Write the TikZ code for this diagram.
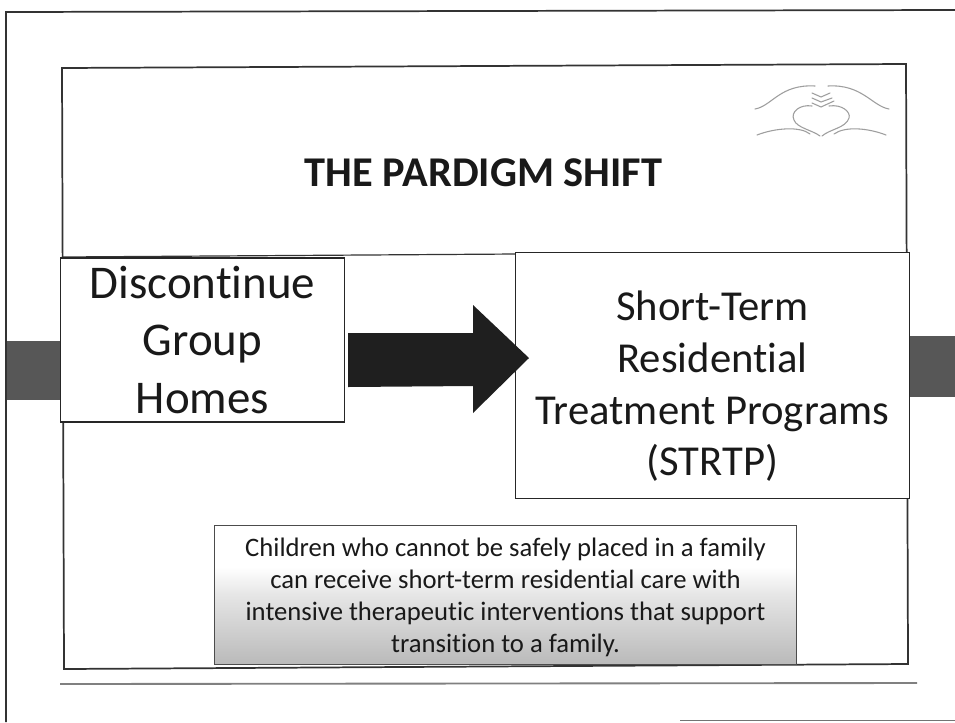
\documentclass[tikz,border=0pt]{standalone}
\usepackage{fontspec}
\setmainfont[Ligatures=NoCommon]{Carlito}
\pgfdeclareverticalshading{fadebox}{100bp}{color(0bp)=(black!42); color(18bp)=(black!32); color(50bp)=(black!10); color(60bp)=(white); color(100bp)=(white)}
\tikzset{
  px/.style={x=0.75pt,y=-0.75pt},
  frameline/.style={draw=black!80,line width=1.3pt},
  boxnode/.style={draw=black!85,line width=0.9pt,fill=white,align=center,inner sep=0pt,text=black!90},
  sidebar/.style={fill=black!66,draw=none},
  logoline/.style={draw=black!38,line width=0.8pt,line cap=round},
}
\newcommand{\pxbox}[2]{\fontsize{#1}{#2}\selectfont}
\begin{document}
\begin{tikzpicture}[px]
\useasboundingbox (0,0) rectangle (955,722);
\fill[white] (0,0) rectangle (955,722);
% outer page frame
\draw[frameline] (6,722) -- (6,12) -- (955,10);
% slide frame
\draw[frameline] (62,68) -- (906,64) -- (908,664) -- (64,669) -- cycle;
\draw[draw=black!80,line width=0.9pt] (62,257) -- (516,254);
% side bars
\fill[sidebar] (7,341) rectangle (60,400);
\fill[sidebar] (909,336) rectangle (955,397);
% logo
\draw[logoline] (755,109) .. controls (772,106) and (780,84) .. (815,86);
\draw[logoline] (889,109) .. controls (872,106) and (862,84) .. (828,86);
\draw[logoline] (757,135) .. controls (775,128) and (800,126) .. (810,134);
\draw[logoline] (886,135) .. controls (868,128) and (845,126) .. (834,134);
\draw[logoline] (812,106) .. controls (800,104) and (790,112) .. (794,120) .. controls (797,128) and (812,130) .. (820,136);
\draw[logoline] (829,106) .. controls (842,104) and (851,112) .. (849,118) .. controls (846,128) and (830,129) .. (822,136);
\draw[logoline] (812,93) -- (821,97) -- (830,93);
\draw[logoline] (812,98) -- (821,102) -- (832,98);
\draw[logoline] (812,103) -- (821,107) -- (834,101);
% title
\node[inner sep=0pt,text=black!90,font=\bfseries\pxbox{31.8}{36}] (title) at (483.5,173) {THE PARDIGM SHIFT};
% boxes
\node[boxnode,minimum width=213pt,minimum height=123pt,font=\pxbox{35.2}{43}] (left) at (202.5,340) {Discontinue\\Group\\Homes};
\node[boxnode,minimum width=295pt,minimum height=184pt,font=\pxbox{32}{38.7}] (right) at (712.5,375.5) {\raisebox{0pt}[0pt][0pt]{}\rule{0pt}{0pt}\\[-38.7pt]\rule{0pt}{2pt}\\Short-Term\\Residential\\Treatment Programs\\(STRTP)};
\node[boxnode,shading=fadebox,draw=black!70,minimum width=437pt,minimum height=104pt,font=\pxbox{20}{24}] (note) at (505.5,595) {\rule{0pt}{17pt}Children who cannot be safely placed in a family\\can receive short-term residential care with\\intensive therapeutic interventions that support\\transition to a family.};
% arrow
\fill[black!88] (348,333) -- (473,333) -- (473,305) -- (529,358) -- (473,413) -- (473,386) -- (348,387) -- cycle;
% bottom rules
\draw[draw=black!50,line width=1.4pt] (60,684) -- (917,683);
\draw[draw=black!55,line width=1pt] (680,720.5) -- (955,720.5);
\end{tikzpicture}
\end{document}
